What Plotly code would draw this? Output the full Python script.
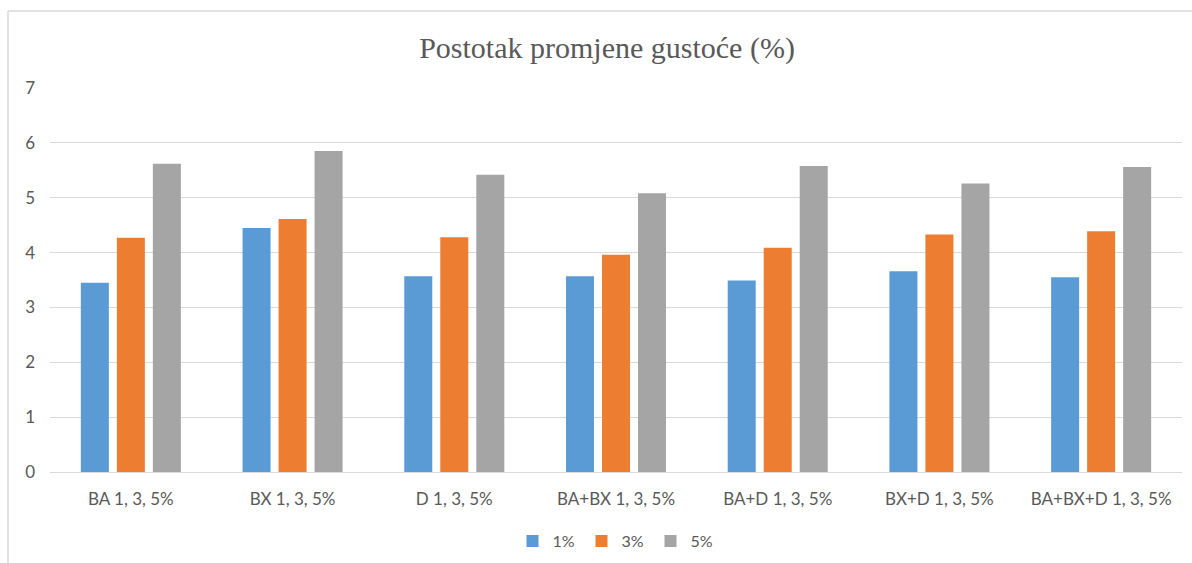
import plotly.graph_objects as go

categories = ["BA 1, 3, 5%", "BX 1, 3, 5%", "D 1, 3, 5%", "BA+BX 1, 3, 5%",
              "BA+D 1, 3, 5%", "BX+D 1, 3, 5%", "BA+BX+D 1, 3, 5%"]
series_names = ["1%", "3%", "5%"]
vals_1 = [3.45, 4.45, 3.57, 3.57, 3.49, 3.66, 3.55]
vals_3 = [4.27, 4.61, 4.28, 3.96, 4.09, 4.33, 4.39]
vals_5 = [5.62, 5.85, 5.42, 5.08, 5.58, 5.26, 5.56]
colors = ["#5B9BD5", "#ED7D31", "#A5A5A5"]
y_ticks = [0, 1, 2, 3, 4, 5, 6, 7]

fig = go.Figure()
for name, vals, col in zip(series_names, [vals_1, vals_3, vals_5], colors):
    fig.add_trace(go.Bar(x=categories, y=vals, name=name,
                         marker=dict(color=col, line=dict(width=0))))

W, H = 1192, 563
L, R, T, B = 50, 10, 88, 91
pw, ph = W - L - R, H - T - B
FONT = "Lato"

fig.update_layout(
    width=W, height=H,
    margin=dict(l=L, r=R, t=T, b=B, autoexpand=False),
    paper_bgcolor="white", plot_bgcolor="white",
    barmode="group", bargap=0.332, bargroupgap=0.222,
    title=dict(text="Postotak promjene gustoće (%)",
               font=dict(family="Liberation Serif", size=30, color="#595959"),
               x=607 / W, xanchor="center", y=1 - 47 / H, yanchor="middle"),
    legend=dict(orientation="h", x=0.5, xanchor="center",
                yref="container", y=1 - 541 / H, yanchor="middle",
                font=dict(family=FONT, size=16, color="#595959"),
                bgcolor="rgba(0,0,0,0)", entrywidth=24, entrywidthmode="pixels"),
    font=dict(family=FONT, size=16, color="#595959"),
    showlegend=True,
)
fig.update_yaxes(range=[0, 7], tickvals=y_ticks, showgrid=True, gridcolor="#D9D9D9",
                 gridwidth=1, zeroline=False, showline=False, ticks="",
                 ticklabelstandoff=14,
                 tickfont=dict(family=FONT, size=17, color="#595959"))
fig.update_xaxes(showgrid=False, showline=True, linecolor="#D9D9D9", linewidth=1,
                 ticks="", ticklabelstandoff=12,
                 tickfont=dict(family=FONT, size=17, color="#595959"))

# chart-area border (left and top), as in the source
x_left = (8 - L) / pw
y_top = (H - B - 11) / ph
y_bot = -(B) / ph
fig.add_shape(type="line", xref="paper", yref="paper", x0=x_left, x1=x_left,
              y0=y_bot, y1=y_top, line=dict(color="#D9D9D9", width=1.5))
fig.add_shape(type="line", xref="paper", yref="paper", x0=x_left, x1=(W - L) / pw,
              y0=y_top, y1=y_top, line=dict(color="#D9D9D9", width=1.5))

fig.write_html("out.html", config={"displayModeBar": False},
               post_script="document.body.style.margin='0';document.body.style.overflow='hidden';")
